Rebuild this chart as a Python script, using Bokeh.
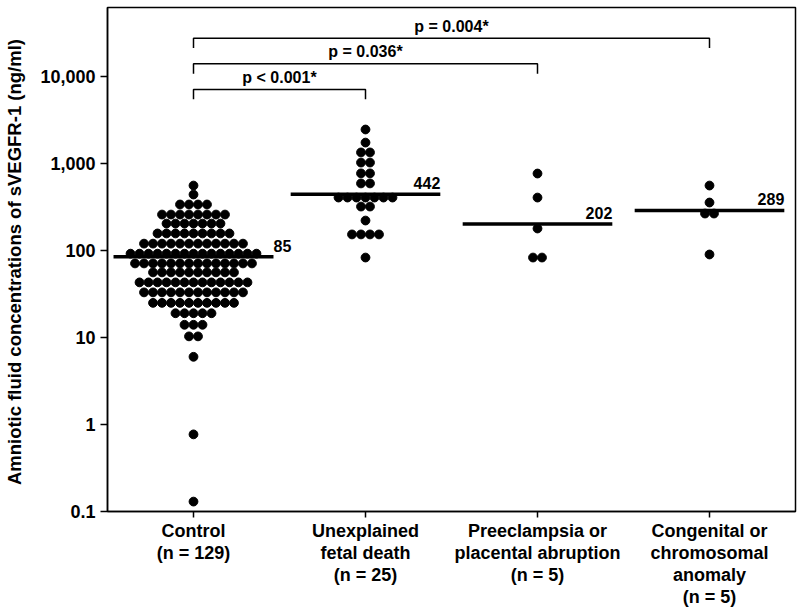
import numpy as np
from bokeh.plotting import figure
from bokeh.models import Range1d, FixedTicker, ColumnDataSource
from bokeh.core.properties import value
from bokeh.embed import file_html
from bokeh.resources import INLINE

# ---------------- data ----------------
categories = [
    "Control\n(n = 129)",
    "Unexplained\nfetal death\n(n = 25)",
    "Preeclampsia or\nplacental abruption\n(n = 5)",
    "Congenital or\nchromosomal\nanomaly\n(n = 5)",
]
# beeswarm rows: value level of each row and number of dots in that row
control_levels = [558, 440, 338, 259, 204, 157, 120, 92, 71, 56, 43, 33, 25, 19, 14, 10.3, 6.0, 0.77, 0.13]
control_counts = [1, 1, 4, 8, 7, 9, 12, 15, 14, 10, 13, 12, 10, 5, 3, 2, 1, 1, 1]
fetal_levels = [2460, 1740, 1340, 1025, 770, 590, 406, 320, 221, 153, 83]
fetal_counts = [1, 1, 2, 2, 2, 2, 7, 2, 1, 4, 1]
preec_levels = [767, 406, 179, 83]
preec_counts = [1, 1, 1, 2]
cong_levels = [558, 356, 266, 90]
cong_counts = [1, 1, 2, 1]

medians = [85, 442, 202, 289]
median_labels = ["85", "442", "202", "289"]

comp_from = [1, 1, 1]
comp_to = [2, 3, 4]
comp_text = ["p < 0.001*", "p = 0.036*", "p = 0.004*"]

y_ticks = [0.1, 1, 10, 100, 1000, 10000]
y_tick_labels = ["0.1", "1", "10", "100", "1,000", "10,000"]

# ---------------- styling ----------------
FONT = "Liberation Sans"
dot_dx = 0.0523          # horizontal dot spacing (category units)
half_widths = [0.465, 0.435, 0.435, 0.435]
label_align = ["left", "right", "right", "right"]
bracket_base = 7100
bracket_step = 1.97
bracket_leg = 1.3

p = figure(
    width=798, height=610,
    x_range=Range1d(0.5, 4.5),
    y_range=Range1d(0.1, 10 ** (-1 + 504 / 87)),
    y_axis_type="log",
    output_backend="svg", toolbar_location=None,
    min_border_left=107, min_border_right=3, min_border_top=7, min_border_bottom=99,
)
p.background_fill_color = "white"
p.border_fill_color = "white"
p.outline_line_color = "black"
p.outline_line_width = 1.5
p.xgrid.visible = False
p.ygrid.visible = False

# y axis
p.yaxis.ticker = FixedTicker(ticks=y_ticks)
p.yaxis.major_label_overrides = {t: l for t, l in zip(y_ticks, y_tick_labels)}
p.yaxis.minor_tick_line_color = None
p.yaxis.major_tick_in = 0
p.yaxis.major_tick_out = 7
p.yaxis.major_label_standoff = 5
p.yaxis.axis_label = "Amniotic fluid  concentrations of sVEGFR-1 (ng/ml)"
p.yaxis.axis_label_text_font = FONT
p.yaxis.axis_label_text_font_style = "bold"
p.yaxis.axis_label_text_font_size = "18.5px"
p.yaxis.axis_label_text_color = "black"
p.yaxis.axis_label_standoff = 12
p.yaxis.major_label_text_font = FONT
p.yaxis.major_label_text_font_style = "bold"
p.yaxis.major_label_text_font_size = "18px"
p.yaxis.major_label_text_color = "black"
p.yaxis.axis_line_color = "black"
p.yaxis.axis_line_width = 1.5
p.yaxis.major_tick_line_color = "black"
p.yaxis.major_tick_line_width = 1.5

# x axis
xpos = [1, 2, 3, 4]
p.xaxis.ticker = FixedTicker(ticks=xpos)
p.xaxis.major_label_overrides = {x: c for x, c in zip(xpos, categories)}
p.xaxis.minor_tick_line_color = None
p.xaxis.major_tick_in = 0
p.xaxis.major_tick_out = 6
p.xaxis.major_label_standoff = 3
p.xaxis.major_label_text_font = FONT
p.xaxis.major_label_text_font_style = "bold"
p.xaxis.major_label_text_font_size = "18px"
p.xaxis.major_label_text_line_height = 1.1
p.xaxis.major_label_text_color = "black"
p.xaxis.axis_line_color = "black"
p.xaxis.axis_line_width = 1.5
p.xaxis.major_tick_line_color = "black"
p.xaxis.major_tick_line_width = 1.5

# dots (beeswarm)
groups = [(control_levels, control_counts), (fetal_levels, fetal_counts),
          (preec_levels, preec_counts), (cong_levels, cong_counts)]
xs, ys = [], []
for gi, (levels, counts) in zip(xpos, groups):
    for v, n in zip(levels, counts):
        offs = (np.arange(n) - (n - 1) / 2) * dot_dx
        xs.extend(gi + offs)
        ys.extend([v] * n)
p.scatter(xs, ys, size=8.8, color="black", line_color="black")

# median lines + labels
x0 = [x - h for x, h in zip(xpos, half_widths)]
x1 = [x + h for x, h in zip(xpos, half_widths)]
p.segment(x0=x0, y0=medians, x1=x1, y1=medians, line_color="black", line_width=3.5, line_cap="butt")
msrc = ColumnDataSource(dict(x=x1, y=medians, t=median_labels, a=label_align))
p.text(x="x", y="y", text="t", text_align="a", source=msrc, text_baseline="middle",
       y_offset=-11, text_font=value(FONT), text_font_style="bold", text_font_size="16px",
       text_color="black")

# significance brackets
bxs, bys, tx, ty = [], [], [], []
for k, (a, b) in enumerate(zip(comp_from, comp_to)):
    lvl = bracket_base * bracket_step ** k
    bxs.append([a, a, b, b])
    bys.append([lvl / bracket_leg, lvl, lvl, lvl / bracket_leg])
    tx.append((a + b) / 2)
    ty.append(lvl)
p.multi_line(bxs, bys, line_color="black", line_width=1.5)
p.text(x=tx, y=ty, text=comp_text, text_align="center", text_baseline="middle",
       y_offset=-12, text_font=value(FONT), text_font_style="bold", text_font_size="16px",
       text_color="black")

open("out.html", "w").write(file_html(p, INLINE))
